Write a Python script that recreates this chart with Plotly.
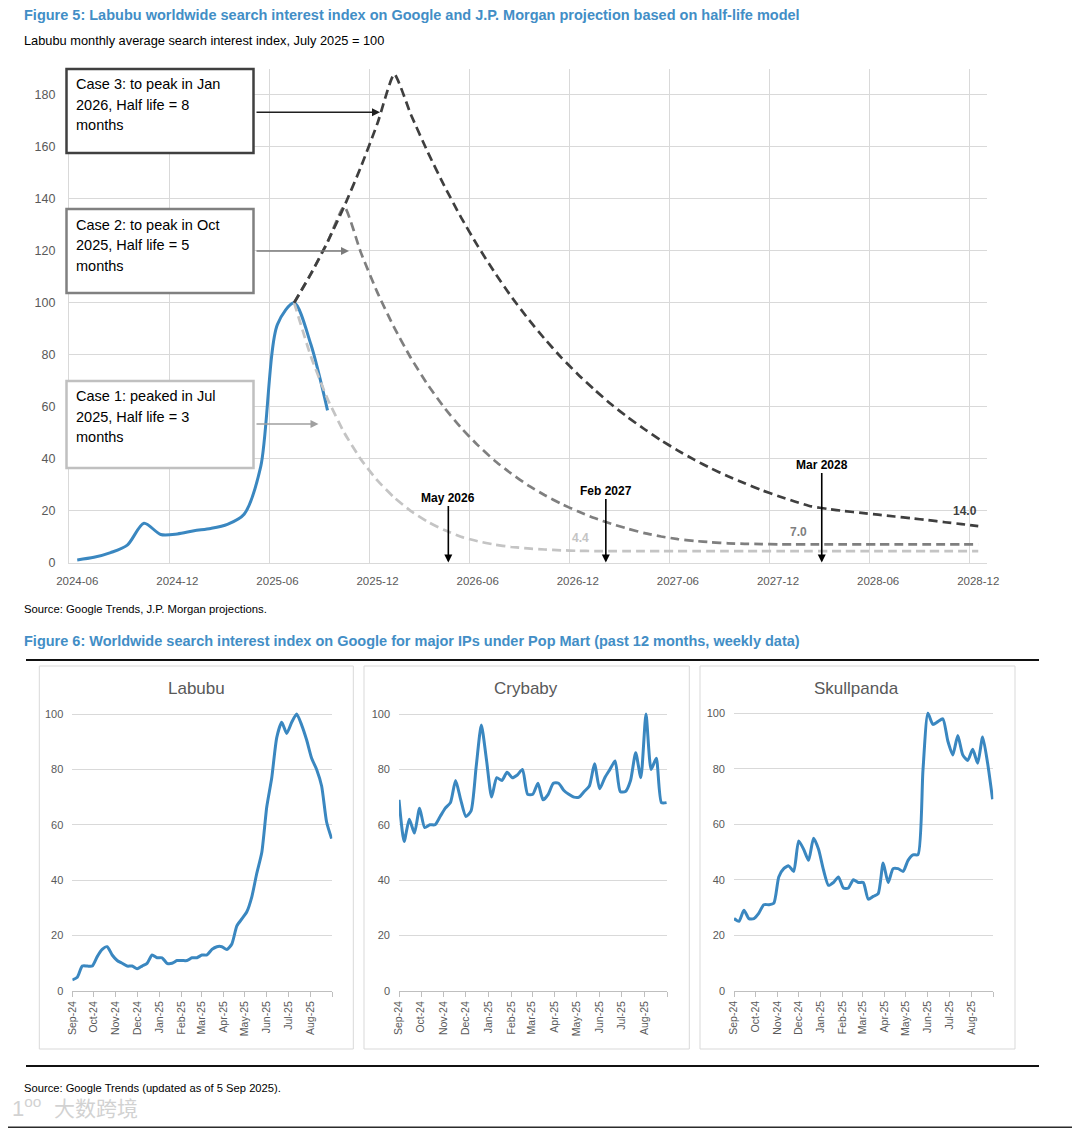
import plotly.graph_objects as go
import pandas as pd

# page body adds an 8px margin, so the figure is drawn 8px in from the page corner
OFF = 8
W, H = 1080 - OFF, 1128 - OFF


def px(x):
    return (x - OFF) / W


def py(y):
    return 1 - (y - OFF) / H


FONT = "Liberation Sans, Arial, sans-serif"
BLUE = "#3A87C0"
TITLE_BLUE = "#428EC6"
GRID = "#d9d9d9"
TICK = "#595959"

# ---------------- Figure 5 data ----------------
months = [p.strftime("%Y-%m") for p in pd.period_range("2024-06", "2028-12", freq="M")]
month_pos = {m: i for i, m in enumerate(months)}

actual_months = months[:16]
actual_index = [1.0, 2.0, 3.8, 6.7, 15.1, 10.8, 11.0, 12.2, 13.1, 14.7, 18.6, 37.0,
                91.7, 100.0, 84.0, 58.6]

proj_months = months[13:]
case1_half3 = [100.0, 79.4, 63.0, 50.0, 39.7, 31.5, 25.0, 19.8, 15.7, 12.5, 9.9, 8.2,
               6.9, 6.0, 5.4, 5.0, 4.7, 4.5, 4.4, 4.4, 4.4, 4.4, 4.4, 4.4,
               4.4, 4.4, 4.4, 4.4, 4.4, 4.4, 4.4, 4.4, 4.4, 4.4, 4.4, 4.4,
               4.4, 4.4, 4.4, 4.4, 4.4, 4.4]
case2_half5 = [100.0, 111.0, 123.3, 137.0, 119.3, 103.8, 90.4, 78.7, 68.5, 59.6, 51.9, 45.2,
               39.3, 34.3, 29.8, 26.0, 22.6, 19.7, 17.1, 14.9, 13.0, 11.3, 10.0, 9.0,
               8.3, 7.8, 7.4, 7.2, 7.1, 7.0, 7.0, 7.0, 7.0, 7.0, 7.0, 7.0,
               7.0, 7.0, 7.0, 7.0, 7.0, 7.0]
case3_half8 = [100.0, 111.1, 123.4, 137.1, 152.3, 169.2, 188.0, 172.4, 158.1, 145.0, 132.9, 121.9,
               111.8, 102.5, 94.0, 86.2, 79.0, 72.5, 66.5, 60.9, 55.9, 51.3, 47.0, 43.1,
               39.5, 36.2, 33.2, 30.5, 27.9, 25.6, 23.5, 21.6, 20.6, 19.8, 19.1, 18.4,
               17.7, 17.0, 16.3, 15.5, 14.8, 14.0]

x_tick_labels = ["2024-06", "2024-12", "2025-06", "2025-12", "2026-06",
                 "2026-12", "2027-06", "2027-12", "2028-06", "2028-12"]
y_ticks_top = [0, 20, 40, 60, 80, 100, 120, 140, 160, 180]

# ---------------- Figure 6 data (weekly) ----------------
weeks = pd.date_range("2024-09-01", "2025-08-31", freq="7D")
labubu = [4, 5, 9, 9, 9, 12.4, 15, 16, 13, 11, 10, 9, 9, 8, 9, 10, 13, 12, 12, 10, 10, 11,
          11, 11, 12, 12, 13, 13, 15, 16, 16, 15, 17, 23.5, 26, 28.6, 34, 42.5, 50, 66.5,
          77, 91.5, 97, 93, 97, 100, 96, 90.6, 84, 80, 74, 61, 55]
crybaby = [69, 54, 62, 57, 66, 59, 60, 60, 63, 66, 68, 76, 69, 63, 65, 81, 96, 83.5, 70, 77,
           76, 79, 77, 78, 80, 71, 71, 75, 69, 71, 75, 75, 72.5, 71, 70, 70, 72, 74, 82, 73,
           77, 80, 83, 72, 72, 76, 86, 77, 100, 80, 84, 68, 68]
skullpanda = [26, 25, 29, 26, 26, 28, 31, 31, 31.5, 41, 44, 45, 43, 54, 51, 47, 55, 51, 43.5,
              38, 39, 41, 37, 37, 40, 39, 39, 33, 34, 35, 46, 39, 44, 44, 43, 47, 49, 49,
              79.5, 100, 96, 97, 98, 90, 85, 92, 85, 83, 87, 82, 91.5, 82, 69]
panel_names = ["Labubu", "Crybaby", "Skullpanda"]
panel_series = [labubu, crybaby, skullpanda]
week_tick_dates = ["2024-09-01", "2024-10-01", "2024-11-01", "2024-12-01", "2025-01-01",
                   "2025-02-01", "2025-03-01", "2025-04-01", "2025-05-01", "2025-06-01",
                   "2025-07-01", "2025-08-01", "2025-09-01"]
week_tick_labels = ["Sep-24", "Oct-24", "Nov-24", "Dec-24", "Jan-25", "Feb-25", "Mar-25",
                    "Apr-25", "May-25", "Jun-25", "Jul-25", "Aug-25", ""]
y_ticks_small = [0, 20, 40, 60, 80, 100]

fig = go.Figure()

# ---- Figure 5 traces ----
fig.add_trace(go.Scatter(
    x=[month_pos[m] for m in actual_months], y=actual_index, mode="lines",
    line=dict(color=BLUE, width=3, shape="spline", smoothing=0.8),
    xaxis="x", yaxis="y", hoverinfo="skip"))
proj_x = [month_pos[m] for m in proj_months]
for vals, col in [(case1_half3, "#c4c4c4"), (case2_half5, "#7f7f7f"), (case3_half8, "#3f3f3f")]:
    fig.add_trace(go.Scatter(
        x=proj_x, y=vals, mode="lines",
        line=dict(color=col, width=2.7, dash="9px,5px", shape="spline", smoothing=0.5),
        xaxis="x", yaxis="y", hoverinfo="skip"))

# ---- Figure 6 traces ----
for i, vals in enumerate(panel_series):
    ax = str(i + 2)
    fig.add_trace(go.Scatter(
        x=weeks, y=vals, mode="lines",
        line=dict(color=BLUE, width=3, shape="spline", smoothing=0.6),
        xaxis="x" + ax, yaxis="y" + ax, hoverinfo="skip"))

tickvals_top = [month_pos[m] for m in x_tick_labels]

layout = dict(
    width=W, height=H, autosize=False,
    margin=dict(l=0, r=0, t=0, b=0, pad=0, autoexpand=False),
    paper_bgcolor="white", plot_bgcolor="white",
    showlegend=False,
    xaxis=dict(domain=[px(68.9), px(986.6)], range=[-0.5, 54.5], automargin=False,
               tickmode="array", tickvals=tickvals_top, ticktext=x_tick_labels,
               showgrid=False, zeroline=False, showline=True, linecolor=GRID, linewidth=1,
               ticks="", tickfont=dict(family=FONT, size=11.5, color=TICK),
               ticklabelstandoff=8,
               minor=dict(tickmode="array", tickvals=[v - 0.5 for v in tickvals_top],
                          showgrid=True, gridcolor=GRID, gridwidth=1, ticks=""),
               anchor="y"),
    yaxis=dict(domain=[py(562.5), py(69)], range=[0, 190], automargin=False,
               tickmode="array", tickvals=y_ticks_top,
               showgrid=True, gridcolor=GRID, gridwidth=1, zeroline=False,
               showline=True, linecolor=GRID, linewidth=1,
               ticks="", tickfont=dict(family=FONT, size=12.5, color=TICK),
               ticklabelstandoff=10, anchor="x"),
)

panels = [
    # plot x0, x1, y_bottom, y_top(for 100), box x0, x1, title x
    (72.3, 332.3, 991, 714, 39.3, 353.3, 196),
    (399, 667.3, 991, 714, 364, 689.3, 525.7),
    (734, 993.3, 990.7, 713.3, 700, 1015, 856.7),
]
shapes = []
ann = []
for i, (x0, x1, yb, y100, bx0, bx1, tx) in enumerate(panels):
    n = str(i + 2)
    unit = (yb - y100) / 100.0
    ytop = yb - 102 * unit
    layout["xaxis" + n] = dict(
        domain=[px(x0), px(x1)], type="date", range=["2024-09-01", "2025-09-01"],
        automargin=False,
        tickmode="array", tickvals=week_tick_dates, ticktext=week_tick_labels,
        tickangle=-90, ticks="outside", ticklen=5, tickcolor="#bfbfbf", tickwidth=1,
        showgrid=False, zeroline=False, showline=True, linecolor="#bfbfbf", linewidth=1,
        tickfont=dict(family=FONT, size=10.5, color=TICK), anchor="y" + n)
    layout["yaxis" + n] = dict(
        domain=[py(yb), py(ytop)], range=[0, 102], automargin=False,
        tickmode="array", tickvals=y_ticks_small,
        showgrid=True, gridcolor=GRID, gridwidth=1, zeroline=False, showline=False,
        ticks="", tickfont=dict(family=FONT, size=11, color=TICK),
        ticklabelstandoff=8, anchor="x" + n)
    shapes.append(dict(type="rect", xref="paper", yref="paper",
                       x0=px(bx0), x1=px(bx1), y0=py(1049), y1=py(666),
                       line=dict(color="#d9d9d9", width=1), fillcolor="rgba(0,0,0,0)",
                       layer="below"))
    ann.append(dict(xref="paper", yref="paper", x=px(tx), y=py(688), text=panel_names[i],
                    showarrow=False, xanchor="center", yanchor="middle",
                    font=dict(family=FONT, size=17, color=TICK)))


def text(x, y, s, size, color="#000000", bold=False, family=FONT, xanchor="left"):
    ann.append(dict(xref="paper", yref="paper", x=px(x), y=py(y),
                    text=("<b>%s</b>" % s) if bold else s, showarrow=False,
                    xanchor=xanchor, yanchor="middle",
                    font=dict(family=family, size=size, color=color)))


# titles and sources
text(22, 15, "Figure 5: Labubu worldwide search interest index on Google and J.P. Morgan projection based on half-life model",
     14.5, TITLE_BLUE, bold=True)
text(22, 40, "Labubu monthly average search interest index, July 2025 = 100", 12.8)
text(22, 609, "Source: Google Trends, J.P. Morgan projections.", 11.3)
text(22, 641, "Figure 6: Worldwide search interest index on Google for major IPs under Pop Mart (past 12 months, weekly data)",
     14.5, TITLE_BLUE, bold=True)
text(22, 1088, "Source: Google Trends (updated as of 5 Sep 2025).", 11.2)

# case boxes
boxes = [
    (69, 153, "#404040", ["Case 3: to peak in Jan", "2026, Half life = 8", "months"], [84, 104.7, 125], 112.3, 380, "#1f1f1f"),
    (209, 293, "#808080", ["Case 2: to peak in Oct", "2025, Half life = 5", "months"], [225, 245.5, 266], 251, 349, "#7a7a7a"),
    (381, 468, "#c0c0c0", ["Case 1: peaked in Jul", "2025, Half life = 3", "months"], [396, 416.7, 437], 424, 318.5, "#a0a0a0"),
]
for (y0, y1, bcol, lines, ys, arr_y, tip, acol) in boxes:
    shapes.append(dict(type="rect", xref="paper", yref="paper",
                       x0=px(66.5), x1=px(253.5), y0=py(y1), y1=py(y0),
                       line=dict(color=bcol, width=2.5), fillcolor="white", layer="above"))
    for s, yy in zip(lines, ys):
        text(74, yy, s, 14.5, "#000000", family=FONT)
    ann.append(dict(xref="paper", yref="paper", x=px(tip), y=py(arr_y), text="",
                    showarrow=True, ax=-(tip - 255), ay=0, arrowhead=2, arrowsize=1,
                    arrowwidth=1.6, arrowcolor=acol, standoff=0))

# month arrows
for label, xpos, ty in [("May 2026", 22.24, -65), ("Feb 2027", 31.68, -72), ("Mar 2028", 44.62, -98)]:
    ann.append(dict(xref="x", yref="y", x=xpos, y=0, text="<b>%s</b>" % label,
                    showarrow=True, ax=0, ay=ty, arrowhead=2, arrowsize=1, arrowwidth=1.6,
                    arrowcolor="#000000", standoff=0,
                    font=dict(family=FONT, size=12, color="#000000")))

# end value labels
for s, xx, yy, col in [("4.4", 30.15, 9.3, "#c4c4c4"), ("7.0", 43.2, 11.6, "#7f7f7f"),
                       ("14.0", 53.2, 19.7, "#3f3f3f")]:
    ann.append(dict(xref="x", yref="y", x=xx, y=yy, text="<b>%s</b>" % s, showarrow=False,
                    xanchor="center", yanchor="middle",
                    font=dict(family=FONT, size=12, color=col)))

# separator lines
for yy in [660, 1066]:
    shapes.append(dict(type="line", xref="paper", yref="paper", x0=px(26), x1=px(1039),
                       y0=py(yy), y1=py(yy), line=dict(color="#111111", width=2)))
# screenshot frame edges
shapes.append(dict(type="rect", xref="paper", yref="paper", x0=px(1076.5), x1=1,
                   y0=0, y1=1, line=dict(width=0), fillcolor="#2b2b2b"))
shapes.append(dict(type="rect", xref="paper", yref="paper", x0=0, x1=1,
                   y0=0, y1=py(1126.5), line=dict(width=0), fillcolor="#2b2b2b"))

# watermark
ann.append(dict(xref="paper", yref="paper", x=px(10), y=py(1107), text="1<sup>oo</sup>",
                showarrow=False, xanchor="left", yanchor="middle",
                font=dict(family=FONT, size=22, color="#d2d2d2")))
ann.append(dict(xref="paper", yref="paper", x=px(52), y=py(1107), text="大数跨境",
                showarrow=False, xanchor="left", yanchor="middle",
                font=dict(family="Noto Sans CJK SC", size=21, color="#d2d2d2")))

layout["shapes"] = shapes
layout["annotations"] = ann
fig.update_layout(**layout)
fig.write_html("out.html")
